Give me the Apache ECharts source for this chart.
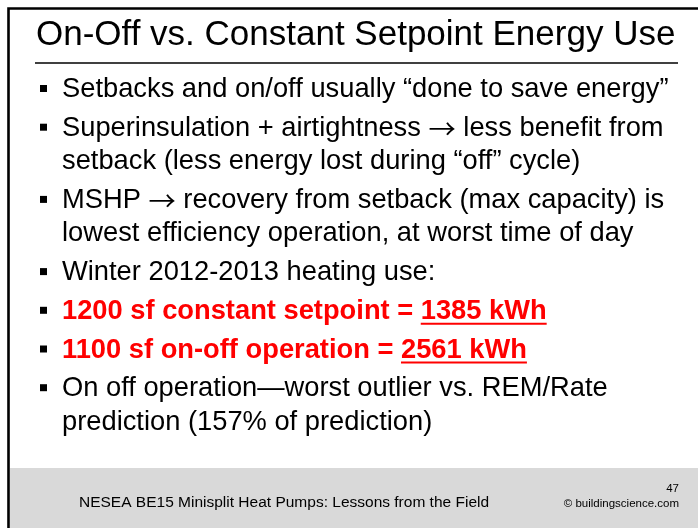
<!DOCTYPE html>
<html>
<head>
<meta charset="utf-8">
<script src="https://cdn.jsdelivr.net/npm/echarts@6/dist/echarts.min.js"></script>
<style>
  html, body { margin: 0; padding: 0; background: #fff; }
  #chart { width: 698px; height: 528px; }
</style>
</head>
<body>
<div id="chart"></div>
<script>
const title = "On-Off vs. Constant Setpoint Energy Use";

// plain bullets, each one a list of wrapped lines
const introBullets = [
  ["Setbacks and on/off usually \u201cdone to save energy\u201d"],
  ["Superinsulation + airtightness \u2192 less benefit from", "setback (less energy lost during \u201coff\u201d cycle)"],
  ["MSHP \u2192 recovery from setback (max capacity) is", "lowest efficiency operation, at worst time of day"],
  ["Winter 2012-2013 heating use:"],
];

// the two highlighted houses
const houseSizes = ["1200 sf", "1100 sf"];
const houseModes = ["constant setpoint", "on-off operation"];
const energyKWh = [1385, 2561];

const closingBullets = [
  ["On off operation\u2014worst outlier vs. REM/Rate", "prediction (157% of prediction)"],
];

const footerText = "NESEA BE15 Minisplit Heat Pumps: Lessons from the Field";
const slideNumber = "47";
const copyright = "\u00a9 buildingscience.com";

const FONT = '"Liberation Sans", Arial, sans-serif';
const bodySize = 27.3;
const bodyFont = bodySize + "px " + FONT;
const boldFont = "bold " + bodySize + "px " + FONT;

// canvas just for measuring the underlined part
const measureCtx = document.createElement("canvas").getContext("2d");
function textWidth(str, font) {
  measureCtx.font = font;
  return measureCtx.measureText(str).width;
}

// baseline -> y for verticalAlign middle
function midY(baseline, size) {
  return baseline - size * 0.3465;
}

// arrows get a wider glyph, like the slide's
function withArrows(line) {
  return line.split("\u2192").join("{arr|\u2192}");
}

const elements = [];

// footer band
elements.push({
  type: "rect",
  shape: { x: 10, y: 468, width: 700, height: 70 },
  style: { fill: "#d9d9d9" },
});

// frame (right and bottom fall outside the page)
elements.push({
  type: "rect",
  shape: { x: 8.5, y: 8.5, width: 720, height: 560 },
  style: { fill: "none", stroke: "#000", lineWidth: 2.6 },
});

// title + rule
elements.push({
  type: "text",
  style: {
    text: title, x: 36, y: midY(47, 35),
    font: "35px " + FONT, fill: "#000", verticalAlign: "middle",
  },
});
elements.push({
  type: "line",
  shape: { x1: 35, y1: 63, x2: 678, y2: 63 },
  style: { stroke: "#000", lineWidth: 1.5 },
});

// build all bullets in order
const bullets = [];
introBullets.forEach(function (lines) {
  bullets.push({ lines: lines, red: false });
});
houseSizes.forEach(function (size, i) {
  bullets.push({
    lines: [size + " " + houseModes[i] + " = " + energyKWh[i] + " kWh"],
    prefix: size + " " + houseModes[i] + " = ",
    underline: energyKWh[i] + " kWh",
    red: true,
  });
});
closingBullets.forEach(function (lines) {
  bullets.push({ lines: lines, red: false });
});

const paraGap = 38.7;
const lineGap = 33.5;
const textX = 62;
let baseline = 99 - paraGap;

bullets.forEach(function (b) {
  baseline += paraGap;
  elements.push({
    type: "rect",
    shape: { x: 40, y: baseline - 14, width: 7, height: 7 },
    style: { fill: "#000" },
  });
  b.lines.forEach(function (line, j) {
    if (j > 0) baseline += lineGap;
    const font = b.red ? boldFont : bodyFont;
    elements.push({
      type: "text",
      style: {
        text: withArrows(line), x: textX, y: midY(baseline, bodySize),
        font: font, fill: b.red ? "#ff0000" : "#000", verticalAlign: "middle",
        rich: {
          arr: { fontFamily: '"Noto Sans CJK SC"', fontSize: bodySize, fill: "#000" },
        },
      },
    });
    if (b.red) {
      const ux = textX + textWidth(b.prefix, boldFont);
      const uw = textWidth(b.underline, boldFont);
      elements.push({
        type: "line",
        shape: { x1: ux, y1: baseline + 3, x2: ux + uw, y2: baseline + 3 },
        style: { stroke: "#ff0000", lineWidth: 2 },
      });
    }
  });
});

// footer texts
elements.push({
  type: "text",
  style: {
    text: footerText, x: 79, y: midY(508, 15.5),
    font: "15.5px " + FONT, fill: "#000", verticalAlign: "middle",
  },
});
elements.push({
  type: "text",
  style: {
    text: slideNumber, x: 679, y: midY(493, 11.5),
    font: "11.5px " + FONT, fill: "#000", align: "right", verticalAlign: "middle",
  },
});
elements.push({
  type: "text",
  style: {
    text: copyright, x: 679, y: midY(508, 11.5),
    font: "11.5px " + FONT, fill: "#000", align: "right", verticalAlign: "middle",
  },
});

const chart = echarts.init(document.getElementById("chart"));
chart.setOption({
  backgroundColor: "#fff",
  animation: false,
  graphic: { elements: elements },
});
</script>
</body>
</html>
